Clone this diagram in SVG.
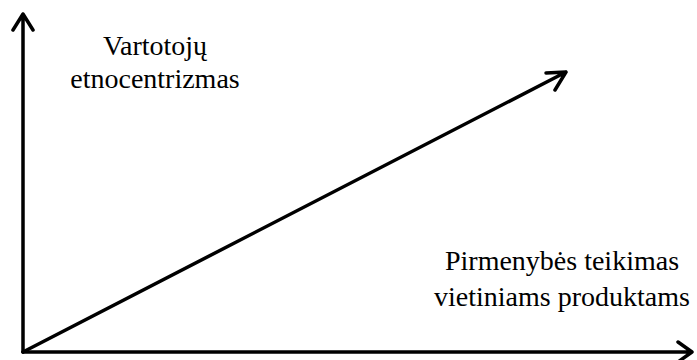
<svg xmlns="http://www.w3.org/2000/svg" width="697" height="360" viewBox="0 0 697 360">
<style>
.ax{stroke:#000;stroke-width:3.5;fill:none;stroke-linecap:round;stroke-linejoin:round}
.t{font-family:"Liberation Serif","Times New Roman",serif;font-size:28px;fill:#000;text-anchor:middle}
</style>
<rect width="697" height="360" fill="#fff"/>
<g id="connectors">
<path class="ax" d="M23,352 V14 M13,30 L23,14 L33,30"/>
<path class="ax" d="M23,352 H692 M678,342 L692,352 L678,362"/>
<path class="ax" d="M23,352 L566,72 M546,73 L566,72 L555,90"/>
</g>
<g id="label-y"><text class="t" x="155" y="55">Vartotojų</text><text class="t" x="155" y="88">etnocentrizmas</text></g>
<g id="label-x"><text class="t" x="562" y="270">Pirmenybės teikimas</text><text class="t" x="562" y="306">vietiniams produktams</text></g>
</svg>
